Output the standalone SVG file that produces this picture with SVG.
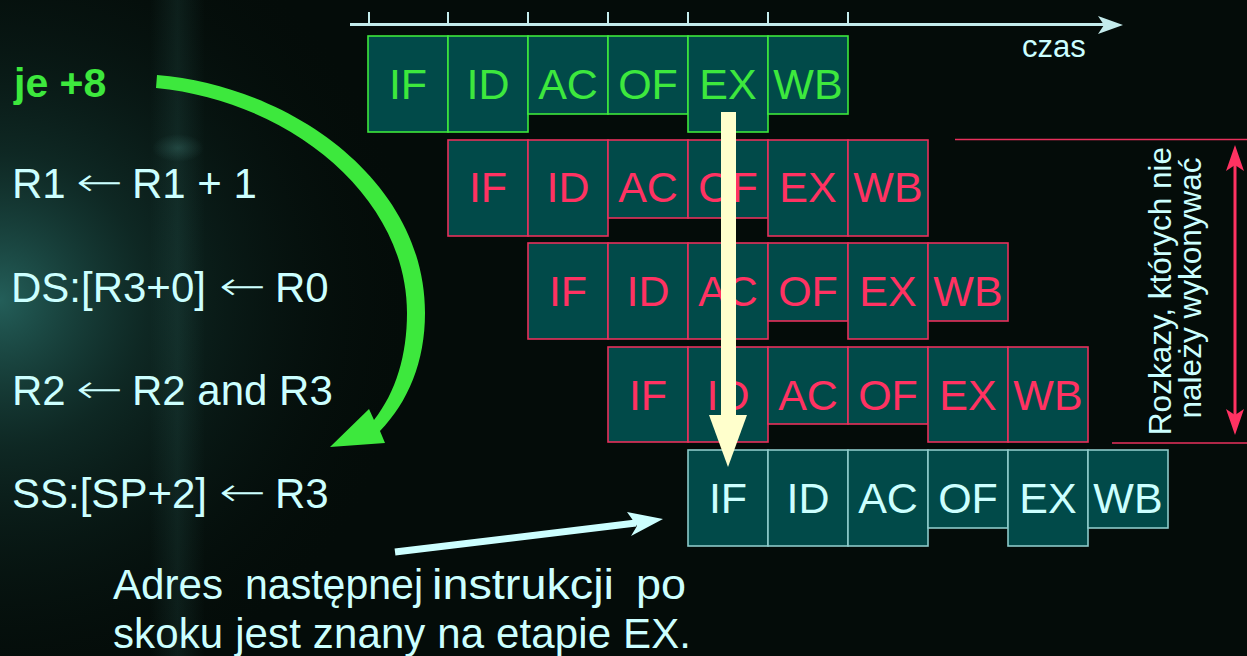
<svg xmlns="http://www.w3.org/2000/svg" width="1247" height="656" viewBox="0 0 1247 656">
  <defs>
    <radialGradient id="glowLeft" cx="0" cy="300" r="420" gradientUnits="userSpaceOnUse">
      <stop offset="0" stop-color="#2e7a74" stop-opacity="0.75"/>
      <stop offset="0.35" stop-color="#1b4a44" stop-opacity="0.45"/>
      <stop offset="1" stop-color="#040c09" stop-opacity="0"/>
    </radialGradient>
    <linearGradient id="streak" x1="0" y1="0" x2="1" y2="0">
      <stop offset="0" stop-color="#3a7a72" stop-opacity="0"/>
      <stop offset="0.5" stop-color="#3a7a72" stop-opacity="0.16"/>
      <stop offset="1" stop-color="#3a7a72" stop-opacity="0"/>
    </linearGradient>
    <radialGradient id="spot" cx="0.5" cy="0.5" r="0.5">
      <stop offset="0" stop-color="#4a8c84" stop-opacity="0.3"/>
      <stop offset="1" stop-color="#4a8c84" stop-opacity="0"/>
    </radialGradient>
    <style>
      .txt { font-family: "Liberation Sans", Arial, sans-serif; }
      .code { font-size: 42px; fill: #ccffff; }
      .arr { font-family: "DejaVu Sans", sans-serif; font-weight: 200; font-size: 40px; fill: #ccffff; }
      .jump { font-size: 41px; fill: #3de83d; font-weight: bold; }
      .cell { fill: #014a49; stroke-width: 1.6; }
      .g .cell { stroke: #3de83d; }
      .r .cell { stroke: #e8305c; }
      .c .cell { stroke: #8ccaca; }
      .lbl { font-size: 43px; text-anchor: middle; }
      .g .lbl { fill: #3de83d; }
      .r .lbl { fill: #ff3262; }
      .c .lbl { fill: #ccffff; }
      .tick { stroke: #c4ecec; stroke-width: 2; }
      .note { font-size: 42px; fill: #ccffff; }
      .side { font-size: 31.5px; fill: #ccffff; }
    </style>
  </defs>

  <!-- background -->
  <rect width="1247" height="656" fill="#040c09"/>
  <rect width="1247" height="656" fill="url(#glowLeft)"/>
  <rect x="150" y="0" width="55" height="656" fill="url(#streak)"/>
  <ellipse cx="178" cy="148" rx="26" ry="14" fill="url(#spot)"/>

  <!-- program listing -->
  <g id="listing" class="txt">
    <text class="jump" x="14" y="97">je +8</text>
    <g id="line-r1">
      <text class="code" x="12" y="198">R1</text>
      <text class="arr" x="76" y="196" textLength="47" lengthAdjust="spacingAndGlyphs">←</text>
      <text class="code" x="132" y="198">R1 + 1</text>
    </g>
    <g id="line-ds">
      <text class="code" x="11" y="302">DS:[R3+0]</text>
      <text class="arr" x="219" y="300" textLength="47" lengthAdjust="spacingAndGlyphs">←</text>
      <text class="code" x="275" y="302">R0</text>
    </g>
    <g id="line-r2">
      <text class="code" x="12" y="405">R2</text>
      <text class="arr" x="76" y="403" textLength="47" lengthAdjust="spacingAndGlyphs">←</text>
      <text class="code" x="132" y="405">R2 and R3</text>
    </g>
    <g id="line-ss">
      <text class="code" x="12" y="508">SS:[SP+2]</text>
      <text class="arr" x="219" y="506" textLength="47" lengthAdjust="spacingAndGlyphs">←</text>
      <text class="code" x="275" y="508">R3</text>
    </g>
  </g>

  <!-- time axis -->
  <g id="time-axis">
    <line x1="350" y1="24.5" x2="1104" y2="24.5" stroke="#c4ecec" stroke-width="3"/>
    <path d="M1123,25 L1098,16 L1104,25 L1098,34 Z" fill="#c4ecec"/>
    <line class="tick" x1="369" y1="12" x2="369" y2="24"/>
    <line class="tick" x1="448" y1="12" x2="448" y2="24"/>
    <line class="tick" x1="528" y1="12" x2="528" y2="24"/>
    <line class="tick" x1="608" y1="12" x2="608" y2="24"/>
    <line class="tick" x1="688" y1="12" x2="688" y2="24"/>
    <line class="tick" x1="768" y1="12" x2="768" y2="24"/>
    <line class="tick" x1="848" y1="12" x2="848" y2="24"/>
    <text class="txt" x="1022" y="57" font-size="31" fill="#ccffff">czas</text>
  </g>

  <!-- pipeline of the jump instruction -->
  <g id="row-jump" class="g txt">
    <rect class="cell" x="368" y="36" width="80" height="96"/>
    <rect class="cell" x="448" y="36" width="80" height="96"/>
    <rect class="cell" x="528" y="36" width="80" height="78"/>
    <rect class="cell" x="608" y="36" width="80" height="78"/>
    <rect class="cell" x="688" y="36" width="80" height="96"/>
    <rect class="cell" x="768" y="36" width="80" height="78"/>
    <text class="lbl" x="408" y="99">IF</text>
    <text class="lbl" x="488" y="99">ID</text>
    <text class="lbl" x="568" y="99">AC</text>
    <text class="lbl" x="648" y="99">OF</text>
    <text class="lbl" x="728" y="99">EX</text>
    <text class="lbl" x="808" y="99">WB</text>
  </g>

  <!-- instructions fetched in vain -->
  <g id="row-2" class="r txt">
    <rect class="cell" x="448" y="140" width="80" height="96"/>
    <rect class="cell" x="528" y="140" width="80" height="96"/>
    <rect class="cell" x="608" y="140" width="80" height="78"/>
    <rect class="cell" x="688" y="140" width="80" height="78"/>
    <rect class="cell" x="768" y="140" width="80" height="96"/>
    <rect class="cell" x="848" y="140" width="80" height="96"/>
    <text class="lbl" x="488" y="202">IF</text>
    <text class="lbl" x="568" y="202">ID</text>
    <text class="lbl" x="648" y="202">AC</text>
    <text class="lbl" x="728" y="202">OF</text>
    <text class="lbl" x="808" y="202">EX</text>
    <text class="lbl" x="888" y="202">WB</text>
  </g>

  <g id="row-3" class="r txt">
    <rect class="cell" x="528" y="243" width="80" height="96"/>
    <rect class="cell" x="608" y="243" width="80" height="96"/>
    <rect class="cell" x="688" y="243" width="80" height="96"/>
    <rect class="cell" x="768" y="243" width="80" height="78"/>
    <rect class="cell" x="848" y="243" width="80" height="96"/>
    <rect class="cell" x="928" y="243" width="80" height="78"/>
    <text class="lbl" x="568" y="306">IF</text>
    <text class="lbl" x="648" y="306">ID</text>
    <text class="lbl" x="728" y="306">AC</text>
    <text class="lbl" x="808" y="306">OF</text>
    <text class="lbl" x="888" y="306">EX</text>
    <text class="lbl" x="968" y="306">WB</text>
  </g>

  <g id="row-4" class="r txt">
    <rect class="cell" x="608" y="347" width="80" height="95"/>
    <rect class="cell" x="688" y="347" width="80" height="95"/>
    <rect class="cell" x="768" y="347" width="80" height="77"/>
    <rect class="cell" x="848" y="347" width="80" height="77"/>
    <rect class="cell" x="928" y="347" width="80" height="95"/>
    <rect class="cell" x="1008" y="347" width="80" height="95"/>
    <text class="lbl" x="648" y="410">IF</text>
    <text class="lbl" x="728" y="410">ID</text>
    <text class="lbl" x="808" y="410">AC</text>
    <text class="lbl" x="888" y="410">OF</text>
    <text class="lbl" x="968" y="410">EX</text>
    <text class="lbl" x="1048" y="410">WB</text>
  </g>

  <!-- jump target -->
  <g id="row-target" class="c txt">
    <rect class="cell" x="688" y="450" width="80" height="96"/>
    <rect class="cell" x="768" y="450" width="80" height="96"/>
    <rect class="cell" x="848" y="450" width="80" height="96"/>
    <rect class="cell" x="928" y="450" width="80" height="78"/>
    <rect class="cell" x="1008" y="450" width="80" height="96"/>
    <rect class="cell" x="1088" y="450" width="80" height="78"/>
    <text class="lbl" x="728" y="513">IF</text>
    <text class="lbl" x="808" y="513">ID</text>
    <text class="lbl" x="888" y="513">AC</text>
    <text class="lbl" x="968" y="513">OF</text>
    <text class="lbl" x="1048" y="513">EX</text>
    <text class="lbl" x="1128" y="513">WB</text>
  </g>

  <!-- bracket of the discarded instructions -->
  <g id="discard-range">
    <line x1="955" y1="139.5" x2="1247" y2="139.5" stroke="#e8305c" stroke-width="1.5"/>
    <line x1="1112" y1="443" x2="1247" y2="443" stroke="#e8305c" stroke-width="1.5"/>
    <line x1="1235" y1="160" x2="1235" y2="420" stroke="#ff3262" stroke-width="3"/>
    <path d="M1235,145 L1244,171 L1235,165 L1226,171 Z" fill="#ff3262"/>
    <path d="M1235,435 L1244,409 L1235,415 L1226,409 Z" fill="#ff3262"/>
    <text class="txt side" transform="translate(1171,291) rotate(-90)" text-anchor="middle">Rozkazy, których nie</text>
    <text class="txt side" transform="translate(1201,288) rotate(-90)" text-anchor="middle">należy wykonywać</text>
  </g>

  <!-- connectors -->
  <g id="connectors">
    <!-- EX of the jump resolves the target fetch -->
    <rect x="721" y="112" width="15" height="304" fill="#ffffcc"/>
    <path d="M709,415 L747,415 L728,467 Z" fill="#ffffcc"/>
    <!-- taken branch skips four instructions -->
    <path d="M157,75 C290,86 425,180 425,313 C425,362 408,402 380,431 L385,443 L330,447 L369,409 L374,420 C396,392 407,355 407,313 C407,196 290,101 156,88 Z" fill="#3de83d"/>
    <!-- pointer from the note to the target row -->
    <line x1="395" y1="552" x2="636" y2="523" stroke="#ccffff" stroke-width="7"/>
    <path d="M663,519 L627,512 L637,526 L631,536 Z" fill="#ccffff"/>
  </g>

  <!-- note -->
  <g id="note" class="txt note">
    <text x="113" y="599" textLength="110" lengthAdjust="spacingAndGlyphs">Adres</text>
    <text x="245" y="599" textLength="178" lengthAdjust="spacingAndGlyphs">następnej</text>
    <text x="432" y="599" textLength="182" lengthAdjust="spacingAndGlyphs">instrukcji</text>
    <text x="636" y="599" textLength="50" lengthAdjust="spacingAndGlyphs">po</text>
    <text x="113" y="648" textLength="578" lengthAdjust="spacing">skoku jest znany na etapie EX.</text>
  </g>
</svg>
